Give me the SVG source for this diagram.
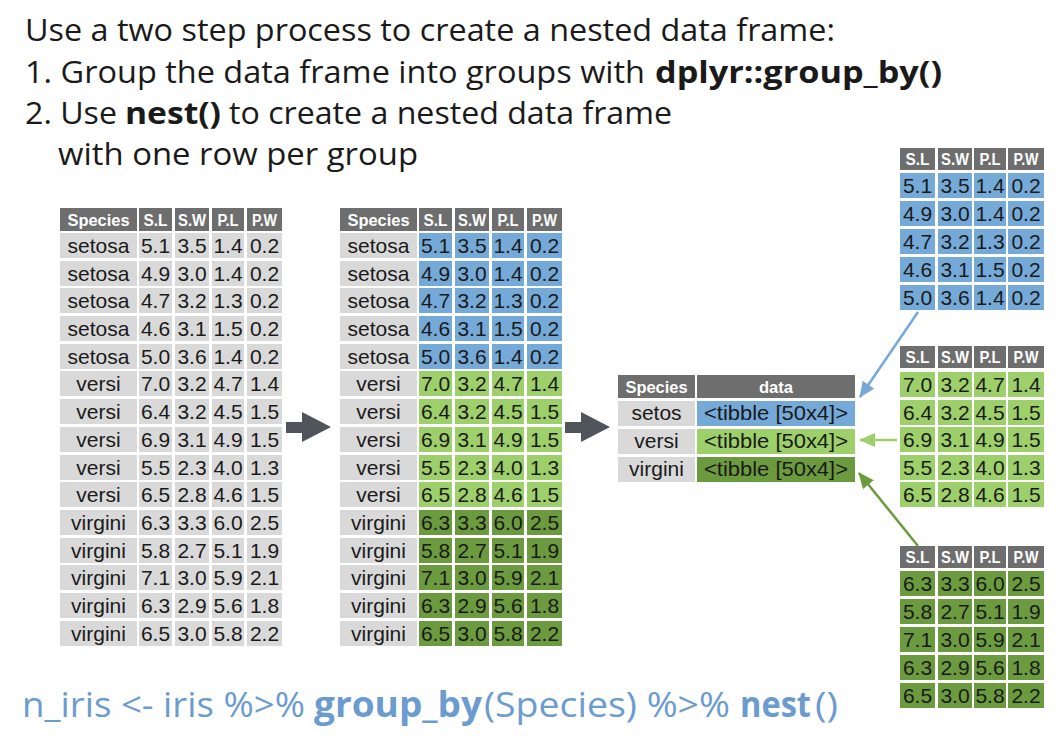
<svg xmlns="http://www.w3.org/2000/svg" width="1060" height="742" viewBox="0 0 1060 742">
<style>
.t{font-family:"Open Sans","Noto Sans",sans-serif;font-size:31px;fill:#1a1a1a}
.b{font-weight:bold}
.code{font-family:"Open Sans","Noto Sans",sans-serif;font-size:35px;fill:#6c9bcf}
.hd{fill:#6e6e6e}
.sp{fill:#d9d9d9}
.bl{fill:#74a9d8}
.lg{fill:#9dcf6a}
.dg{fill:#6b9b3e}
.d{font-family:"Liberation Sans",Arial,sans-serif;font-size:21px;fill:#1a1a1a;text-anchor:middle}
.h{font-family:"Liberation Sans",Arial,sans-serif;font-weight:bold;font-size:16px;fill:#ffffff;text-anchor:middle}
.ga{fill:#50555c}
.cn{fill:none;stroke-width:2.5}
</style>
<defs>
<marker id="mb" markerUnits="userSpaceOnUse" markerWidth="16" markerHeight="14" refX="15" refY="7" orient="auto"><path d="M0,0 L16,7 L0,14 z" fill="#74a9d8"/></marker>
<marker id="mg" markerUnits="userSpaceOnUse" markerWidth="16" markerHeight="14" refX="15" refY="7" orient="auto"><path d="M0,0 L16,7 L0,14 z" fill="#9dcf6a"/></marker>
<marker id="md" markerUnits="userSpaceOnUse" markerWidth="16" markerHeight="14" refX="15" refY="7" orient="auto"><path d="M0,0 L16,7 L0,14 z" fill="#6b9b3e"/></marker>
</defs>
<rect width="1060" height="742" fill="#ffffff"/>
<g id="title">
<text class="t" x="25" y="41" textLength="810" lengthAdjust="spacingAndGlyphs">Use a two step process to create a nested data frame:</text>
<text class="t" x="25" y="83" textLength="620" lengthAdjust="spacingAndGlyphs">1. Group the data frame into groups with</text>
<text class="t b" x="655" y="83" textLength="287" lengthAdjust="spacingAndGlyphs">dplyr::group_by()</text>
<text class="t" x="25" y="124" textLength="92" lengthAdjust="spacingAndGlyphs">2. Use</text>
<text class="t b" x="125" y="124" textLength="96" lengthAdjust="spacingAndGlyphs">nest()</text>
<text class="t" x="229" y="124" textLength="443" lengthAdjust="spacingAndGlyphs">to create a nested data frame</text>
<text class="t" x="58" y="165" textLength="360" lengthAdjust="spacingAndGlyphs">with one row per group</text>
</g>
<g id="table-iris">
<rect class="hd" x="60" y="208" width="77" height="23"/><rect class="hd" x="139" y="208" width="33" height="23"/><rect class="hd" x="175" y="208" width="34" height="23"/><rect class="hd" x="212" y="208" width="32" height="23"/><rect class="hd" x="247" y="208" width="35" height="23"/>
<text class="h" x="98.5" y="226" textLength="62" lengthAdjust="spacingAndGlyphs">Species</text><text class="h" x="155.5" y="226" textLength="24" lengthAdjust="spacingAndGlyphs">S.L</text><text class="h" x="192" y="226" textLength="28" lengthAdjust="spacingAndGlyphs">S.W</text><text class="h" x="228" y="226" textLength="21" lengthAdjust="spacingAndGlyphs">P.L</text><text class="h" x="264.5" y="226" textLength="25" lengthAdjust="spacingAndGlyphs">P.W</text>
<g class="sp">
<rect x="60" y="233" width="77" height="25"/><rect x="139" y="233" width="33" height="25"/><rect x="175" y="233" width="34" height="25"/><rect x="212" y="233" width="32" height="25"/><rect x="247" y="233" width="35" height="25"/>
<rect x="60" y="261" width="77" height="25"/><rect x="139" y="261" width="33" height="25"/><rect x="175" y="261" width="34" height="25"/><rect x="212" y="261" width="32" height="25"/><rect x="247" y="261" width="35" height="25"/>
<rect x="60" y="288" width="77" height="25"/><rect x="139" y="288" width="33" height="25"/><rect x="175" y="288" width="34" height="25"/><rect x="212" y="288" width="32" height="25"/><rect x="247" y="288" width="35" height="25"/>
<rect x="60" y="316" width="77" height="25"/><rect x="139" y="316" width="33" height="25"/><rect x="175" y="316" width="34" height="25"/><rect x="212" y="316" width="32" height="25"/><rect x="247" y="316" width="35" height="25"/>
<rect x="60" y="344" width="77" height="25"/><rect x="139" y="344" width="33" height="25"/><rect x="175" y="344" width="34" height="25"/><rect x="212" y="344" width="32" height="25"/><rect x="247" y="344" width="35" height="25"/>
<rect x="60" y="371" width="77" height="25"/><rect x="139" y="371" width="33" height="25"/><rect x="175" y="371" width="34" height="25"/><rect x="212" y="371" width="32" height="25"/><rect x="247" y="371" width="35" height="25"/>
<rect x="60" y="399" width="77" height="25"/><rect x="139" y="399" width="33" height="25"/><rect x="175" y="399" width="34" height="25"/><rect x="212" y="399" width="32" height="25"/><rect x="247" y="399" width="35" height="25"/>
<rect x="60" y="427" width="77" height="25"/><rect x="139" y="427" width="33" height="25"/><rect x="175" y="427" width="34" height="25"/><rect x="212" y="427" width="32" height="25"/><rect x="247" y="427" width="35" height="25"/>
<rect x="60" y="455" width="77" height="25"/><rect x="139" y="455" width="33" height="25"/><rect x="175" y="455" width="34" height="25"/><rect x="212" y="455" width="32" height="25"/><rect x="247" y="455" width="35" height="25"/>
<rect x="60" y="482" width="77" height="25"/><rect x="139" y="482" width="33" height="25"/><rect x="175" y="482" width="34" height="25"/><rect x="212" y="482" width="32" height="25"/><rect x="247" y="482" width="35" height="25"/>
<rect x="60" y="510" width="77" height="25"/><rect x="139" y="510" width="33" height="25"/><rect x="175" y="510" width="34" height="25"/><rect x="212" y="510" width="32" height="25"/><rect x="247" y="510" width="35" height="25"/>
<rect x="60" y="538" width="77" height="25"/><rect x="139" y="538" width="33" height="25"/><rect x="175" y="538" width="34" height="25"/><rect x="212" y="538" width="32" height="25"/><rect x="247" y="538" width="35" height="25"/>
<rect x="60" y="565" width="77" height="25"/><rect x="139" y="565" width="33" height="25"/><rect x="175" y="565" width="34" height="25"/><rect x="212" y="565" width="32" height="25"/><rect x="247" y="565" width="35" height="25"/>
<rect x="60" y="593" width="77" height="25"/><rect x="139" y="593" width="33" height="25"/><rect x="175" y="593" width="34" height="25"/><rect x="212" y="593" width="32" height="25"/><rect x="247" y="593" width="35" height="25"/>
<rect x="60" y="621" width="77" height="25"/><rect x="139" y="621" width="33" height="25"/><rect x="175" y="621" width="34" height="25"/><rect x="212" y="621" width="32" height="25"/><rect x="247" y="621" width="35" height="25"/>
</g>
<g class="d">
<text x="98.5" y="253">setosa</text><text x="155.5" y="253">5.1</text><text x="192" y="253">3.5</text><text x="228" y="253">1.4</text><text x="264.5" y="253">0.2</text>
<text x="98.5" y="281">setosa</text><text x="155.5" y="281">4.9</text><text x="192" y="281">3.0</text><text x="228" y="281">1.4</text><text x="264.5" y="281">0.2</text>
<text x="98.5" y="308">setosa</text><text x="155.5" y="308">4.7</text><text x="192" y="308">3.2</text><text x="228" y="308">1.3</text><text x="264.5" y="308">0.2</text>
<text x="98.5" y="336">setosa</text><text x="155.5" y="336">4.6</text><text x="192" y="336">3.1</text><text x="228" y="336">1.5</text><text x="264.5" y="336">0.2</text>
<text x="98.5" y="364">setosa</text><text x="155.5" y="364">5.0</text><text x="192" y="364">3.6</text><text x="228" y="364">1.4</text><text x="264.5" y="364">0.2</text>
<text x="98.5" y="391">versi</text><text x="155.5" y="391">7.0</text><text x="192" y="391">3.2</text><text x="228" y="391">4.7</text><text x="264.5" y="391">1.4</text>
<text x="98.5" y="419">versi</text><text x="155.5" y="419">6.4</text><text x="192" y="419">3.2</text><text x="228" y="419">4.5</text><text x="264.5" y="419">1.5</text>
<text x="98.5" y="447">versi</text><text x="155.5" y="447">6.9</text><text x="192" y="447">3.1</text><text x="228" y="447">4.9</text><text x="264.5" y="447">1.5</text>
<text x="98.5" y="475">versi</text><text x="155.5" y="475">5.5</text><text x="192" y="475">2.3</text><text x="228" y="475">4.0</text><text x="264.5" y="475">1.3</text>
<text x="98.5" y="502">versi</text><text x="155.5" y="502">6.5</text><text x="192" y="502">2.8</text><text x="228" y="502">4.6</text><text x="264.5" y="502">1.5</text>
<text x="98.5" y="530">virgini</text><text x="155.5" y="530">6.3</text><text x="192" y="530">3.3</text><text x="228" y="530">6.0</text><text x="264.5" y="530">2.5</text>
<text x="98.5" y="558">virgini</text><text x="155.5" y="558">5.8</text><text x="192" y="558">2.7</text><text x="228" y="558">5.1</text><text x="264.5" y="558">1.9</text>
<text x="98.5" y="585">virgini</text><text x="155.5" y="585">7.1</text><text x="192" y="585">3.0</text><text x="228" y="585">5.9</text><text x="264.5" y="585">2.1</text>
<text x="98.5" y="613">virgini</text><text x="155.5" y="613">6.3</text><text x="192" y="613">2.9</text><text x="228" y="613">5.6</text><text x="264.5" y="613">1.8</text>
<text x="98.5" y="641">virgini</text><text x="155.5" y="641">6.5</text><text x="192" y="641">3.0</text><text x="228" y="641">5.8</text><text x="264.5" y="641">2.2</text>
</g>
</g>
<g id="table-grouped">
<rect class="hd" x="340" y="208" width="77" height="23"/><rect class="hd" x="419" y="208" width="33" height="23"/><rect class="hd" x="455" y="208" width="34" height="23"/><rect class="hd" x="492" y="208" width="32" height="23"/><rect class="hd" x="527" y="208" width="35" height="23"/>
<text class="h" x="378.5" y="226" textLength="62" lengthAdjust="spacingAndGlyphs">Species</text><text class="h" x="435.5" y="226" textLength="24" lengthAdjust="spacingAndGlyphs">S.L</text><text class="h" x="472" y="226" textLength="28" lengthAdjust="spacingAndGlyphs">S.W</text><text class="h" x="508" y="226" textLength="21" lengthAdjust="spacingAndGlyphs">P.L</text><text class="h" x="544.5" y="226" textLength="25" lengthAdjust="spacingAndGlyphs">P.W</text>
<g class="sp">
<rect x="340" y="233" width="77" height="25"/><rect x="340" y="261" width="77" height="25"/><rect x="340" y="288" width="77" height="25"/><rect x="340" y="316" width="77" height="25"/><rect x="340" y="344" width="77" height="25"/>
<rect x="340" y="371" width="77" height="25"/><rect x="340" y="399" width="77" height="25"/><rect x="340" y="427" width="77" height="25"/><rect x="340" y="455" width="77" height="25"/><rect x="340" y="482" width="77" height="25"/>
<rect x="340" y="510" width="77" height="25"/><rect x="340" y="538" width="77" height="25"/><rect x="340" y="565" width="77" height="25"/><rect x="340" y="593" width="77" height="25"/><rect x="340" y="621" width="77" height="25"/>
</g>
<g class="bl">
<rect x="419" y="233" width="33" height="25"/><rect x="455" y="233" width="34" height="25"/><rect x="492" y="233" width="32" height="25"/><rect x="527" y="233" width="35" height="25"/>
<rect x="419" y="261" width="33" height="25"/><rect x="455" y="261" width="34" height="25"/><rect x="492" y="261" width="32" height="25"/><rect x="527" y="261" width="35" height="25"/>
<rect x="419" y="288" width="33" height="25"/><rect x="455" y="288" width="34" height="25"/><rect x="492" y="288" width="32" height="25"/><rect x="527" y="288" width="35" height="25"/>
<rect x="419" y="316" width="33" height="25"/><rect x="455" y="316" width="34" height="25"/><rect x="492" y="316" width="32" height="25"/><rect x="527" y="316" width="35" height="25"/>
<rect x="419" y="344" width="33" height="25"/><rect x="455" y="344" width="34" height="25"/><rect x="492" y="344" width="32" height="25"/><rect x="527" y="344" width="35" height="25"/>
</g>
<g class="lg">
<rect x="419" y="371" width="33" height="25"/><rect x="455" y="371" width="34" height="25"/><rect x="492" y="371" width="32" height="25"/><rect x="527" y="371" width="35" height="25"/>
<rect x="419" y="399" width="33" height="25"/><rect x="455" y="399" width="34" height="25"/><rect x="492" y="399" width="32" height="25"/><rect x="527" y="399" width="35" height="25"/>
<rect x="419" y="427" width="33" height="25"/><rect x="455" y="427" width="34" height="25"/><rect x="492" y="427" width="32" height="25"/><rect x="527" y="427" width="35" height="25"/>
<rect x="419" y="455" width="33" height="25"/><rect x="455" y="455" width="34" height="25"/><rect x="492" y="455" width="32" height="25"/><rect x="527" y="455" width="35" height="25"/>
<rect x="419" y="482" width="33" height="25"/><rect x="455" y="482" width="34" height="25"/><rect x="492" y="482" width="32" height="25"/><rect x="527" y="482" width="35" height="25"/>
</g>
<g class="dg">
<rect x="419" y="510" width="33" height="25"/><rect x="455" y="510" width="34" height="25"/><rect x="492" y="510" width="32" height="25"/><rect x="527" y="510" width="35" height="25"/>
<rect x="419" y="538" width="33" height="25"/><rect x="455" y="538" width="34" height="25"/><rect x="492" y="538" width="32" height="25"/><rect x="527" y="538" width="35" height="25"/>
<rect x="419" y="565" width="33" height="25"/><rect x="455" y="565" width="34" height="25"/><rect x="492" y="565" width="32" height="25"/><rect x="527" y="565" width="35" height="25"/>
<rect x="419" y="593" width="33" height="25"/><rect x="455" y="593" width="34" height="25"/><rect x="492" y="593" width="32" height="25"/><rect x="527" y="593" width="35" height="25"/>
<rect x="419" y="621" width="33" height="25"/><rect x="455" y="621" width="34" height="25"/><rect x="492" y="621" width="32" height="25"/><rect x="527" y="621" width="35" height="25"/>
</g>
<g class="d">
<text x="378.5" y="253">setosa</text><text x="435.5" y="253">5.1</text><text x="472" y="253">3.5</text><text x="508" y="253">1.4</text><text x="544.5" y="253">0.2</text>
<text x="378.5" y="281">setosa</text><text x="435.5" y="281">4.9</text><text x="472" y="281">3.0</text><text x="508" y="281">1.4</text><text x="544.5" y="281">0.2</text>
<text x="378.5" y="308">setosa</text><text x="435.5" y="308">4.7</text><text x="472" y="308">3.2</text><text x="508" y="308">1.3</text><text x="544.5" y="308">0.2</text>
<text x="378.5" y="336">setosa</text><text x="435.5" y="336">4.6</text><text x="472" y="336">3.1</text><text x="508" y="336">1.5</text><text x="544.5" y="336">0.2</text>
<text x="378.5" y="364">setosa</text><text x="435.5" y="364">5.0</text><text x="472" y="364">3.6</text><text x="508" y="364">1.4</text><text x="544.5" y="364">0.2</text>
<text x="378.5" y="391">versi</text><text x="435.5" y="391">7.0</text><text x="472" y="391">3.2</text><text x="508" y="391">4.7</text><text x="544.5" y="391">1.4</text>
<text x="378.5" y="419">versi</text><text x="435.5" y="419">6.4</text><text x="472" y="419">3.2</text><text x="508" y="419">4.5</text><text x="544.5" y="419">1.5</text>
<text x="378.5" y="447">versi</text><text x="435.5" y="447">6.9</text><text x="472" y="447">3.1</text><text x="508" y="447">4.9</text><text x="544.5" y="447">1.5</text>
<text x="378.5" y="475">versi</text><text x="435.5" y="475">5.5</text><text x="472" y="475">2.3</text><text x="508" y="475">4.0</text><text x="544.5" y="475">1.3</text>
<text x="378.5" y="502">versi</text><text x="435.5" y="502">6.5</text><text x="472" y="502">2.8</text><text x="508" y="502">4.6</text><text x="544.5" y="502">1.5</text>
<text x="378.5" y="530">virgini</text><text x="435.5" y="530">6.3</text><text x="472" y="530">3.3</text><text x="508" y="530">6.0</text><text x="544.5" y="530">2.5</text>
<text x="378.5" y="558">virgini</text><text x="435.5" y="558">5.8</text><text x="472" y="558">2.7</text><text x="508" y="558">5.1</text><text x="544.5" y="558">1.9</text>
<text x="378.5" y="585">virgini</text><text x="435.5" y="585">7.1</text><text x="472" y="585">3.0</text><text x="508" y="585">5.9</text><text x="544.5" y="585">2.1</text>
<text x="378.5" y="613">virgini</text><text x="435.5" y="613">6.3</text><text x="472" y="613">2.9</text><text x="508" y="613">5.6</text><text x="544.5" y="613">1.8</text>
<text x="378.5" y="641">virgini</text><text x="435.5" y="641">6.5</text><text x="472" y="641">3.0</text><text x="508" y="641">5.8</text><text x="544.5" y="641">2.2</text>
</g>
</g>
<g id="table-nested">
<rect class="hd" x="618" y="375" width="77" height="23"/><rect class="hd" x="697" y="375" width="158" height="23"/>
<text class="h" x="656.5" y="393" textLength="62" lengthAdjust="spacingAndGlyphs">Species</text><text class="h" x="776" y="393" textLength="34" lengthAdjust="spacingAndGlyphs">data</text>
<rect class="sp" x="618" y="401" width="77" height="25"/><rect class="bl" x="697" y="401" width="158" height="25"/>
<rect class="sp" x="618" y="429" width="77" height="25"/><rect class="lg" x="697" y="429" width="158" height="25"/>
<rect class="sp" x="618" y="457" width="77" height="25"/><rect class="dg" x="697" y="457" width="158" height="25"/>
<g class="d">
<text x="656.5" y="420">setos</text><text x="776" y="420" textLength="144" lengthAdjust="spacingAndGlyphs">&lt;tibble [50x4]&gt;</text>
<text x="656.5" y="448">versi</text><text x="776" y="448" textLength="144" lengthAdjust="spacingAndGlyphs">&lt;tibble [50x4]&gt;</text>
<text x="656.5" y="476">virgini</text><text x="776" y="476" textLength="144" lengthAdjust="spacingAndGlyphs">&lt;tibble [50x4]&gt;</text>
</g>
</g>
<g id="table-setosa">
<rect class="hd" x="900" y="148" width="35" height="22"/><rect class="hd" x="938" y="148" width="34" height="22"/><rect class="hd" x="974" y="148" width="32" height="22"/><rect class="hd" x="1008" y="148" width="36" height="22"/>
<text class="h" x="917.5" y="165" textLength="24" lengthAdjust="spacingAndGlyphs">S.L</text><text class="h" x="955" y="165" textLength="28" lengthAdjust="spacingAndGlyphs">S.W</text><text class="h" x="990" y="165" textLength="21" lengthAdjust="spacingAndGlyphs">P.L</text><text class="h" x="1026" y="165" textLength="25" lengthAdjust="spacingAndGlyphs">P.W</text>
<g class="bl">
<rect x="900" y="173" width="35" height="25"/><rect x="938" y="173" width="34" height="25"/><rect x="974" y="173" width="32" height="25"/><rect x="1008" y="173" width="36" height="25"/>
<rect x="900" y="201" width="35" height="25"/><rect x="938" y="201" width="34" height="25"/><rect x="974" y="201" width="32" height="25"/><rect x="1008" y="201" width="36" height="25"/>
<rect x="900" y="229" width="35" height="25"/><rect x="938" y="229" width="34" height="25"/><rect x="974" y="229" width="32" height="25"/><rect x="1008" y="229" width="36" height="25"/>
<rect x="900" y="257" width="35" height="25"/><rect x="938" y="257" width="34" height="25"/><rect x="974" y="257" width="32" height="25"/><rect x="1008" y="257" width="36" height="25"/>
<rect x="900" y="285" width="35" height="25"/><rect x="938" y="285" width="34" height="25"/><rect x="974" y="285" width="32" height="25"/><rect x="1008" y="285" width="36" height="25"/>
</g>
<g class="d">
<text x="917.5" y="193">5.1</text><text x="955" y="193">3.5</text><text x="990" y="193">1.4</text><text x="1026" y="193">0.2</text>
<text x="917.5" y="221">4.9</text><text x="955" y="221">3.0</text><text x="990" y="221">1.4</text><text x="1026" y="221">0.2</text>
<text x="917.5" y="249">4.7</text><text x="955" y="249">3.2</text><text x="990" y="249">1.3</text><text x="1026" y="249">0.2</text>
<text x="917.5" y="277">4.6</text><text x="955" y="277">3.1</text><text x="990" y="277">1.5</text><text x="1026" y="277">0.2</text>
<text x="917.5" y="305">5.0</text><text x="955" y="305">3.6</text><text x="990" y="305">1.4</text><text x="1026" y="305">0.2</text>
</g>
</g>
<g id="table-versicolor">
<rect class="hd" x="900" y="346" width="35" height="22"/><rect class="hd" x="938" y="346" width="34" height="22"/><rect class="hd" x="974" y="346" width="32" height="22"/><rect class="hd" x="1008" y="346" width="36" height="22"/>
<text class="h" x="917.5" y="363" textLength="24" lengthAdjust="spacingAndGlyphs">S.L</text><text class="h" x="955" y="363" textLength="28" lengthAdjust="spacingAndGlyphs">S.W</text><text class="h" x="990" y="363" textLength="21" lengthAdjust="spacingAndGlyphs">P.L</text><text class="h" x="1026" y="363" textLength="25" lengthAdjust="spacingAndGlyphs">P.W</text>
<g class="lg">
<rect x="900" y="372" width="35" height="25"/><rect x="938" y="372" width="34" height="25"/><rect x="974" y="372" width="32" height="25"/><rect x="1008" y="372" width="36" height="25"/>
<rect x="900" y="400" width="35" height="25"/><rect x="938" y="400" width="34" height="25"/><rect x="974" y="400" width="32" height="25"/><rect x="1008" y="400" width="36" height="25"/>
<rect x="900" y="427" width="35" height="25"/><rect x="938" y="427" width="34" height="25"/><rect x="974" y="427" width="32" height="25"/><rect x="1008" y="427" width="36" height="25"/>
<rect x="900" y="455" width="35" height="25"/><rect x="938" y="455" width="34" height="25"/><rect x="974" y="455" width="32" height="25"/><rect x="1008" y="455" width="36" height="25"/>
<rect x="900" y="482" width="35" height="25"/><rect x="938" y="482" width="34" height="25"/><rect x="974" y="482" width="32" height="25"/><rect x="1008" y="482" width="36" height="25"/>
</g>
<g class="d">
<text x="917.5" y="392">7.0</text><text x="955" y="392">3.2</text><text x="990" y="392">4.7</text><text x="1026" y="392">1.4</text>
<text x="917.5" y="420">6.4</text><text x="955" y="420">3.2</text><text x="990" y="420">4.5</text><text x="1026" y="420">1.5</text>
<text x="917.5" y="447">6.9</text><text x="955" y="447">3.1</text><text x="990" y="447">4.9</text><text x="1026" y="447">1.5</text>
<text x="917.5" y="475">5.5</text><text x="955" y="475">2.3</text><text x="990" y="475">4.0</text><text x="1026" y="475">1.3</text>
<text x="917.5" y="502">6.5</text><text x="955" y="502">2.8</text><text x="990" y="502">4.6</text><text x="1026" y="502">1.5</text>
</g>
</g>
<g id="table-virginica">
<rect class="hd" x="900" y="546" width="35" height="22"/><rect class="hd" x="938" y="546" width="34" height="22"/><rect class="hd" x="974" y="546" width="32" height="22"/><rect class="hd" x="1008" y="546" width="36" height="22"/>
<text class="h" x="917.5" y="563" textLength="24" lengthAdjust="spacingAndGlyphs">S.L</text><text class="h" x="955" y="563" textLength="28" lengthAdjust="spacingAndGlyphs">S.W</text><text class="h" x="990" y="563" textLength="21" lengthAdjust="spacingAndGlyphs">P.L</text><text class="h" x="1026" y="563" textLength="25" lengthAdjust="spacingAndGlyphs">P.W</text>
<g class="dg">
<rect x="900" y="571" width="35" height="25"/><rect x="938" y="571" width="34" height="25"/><rect x="974" y="571" width="32" height="25"/><rect x="1008" y="571" width="36" height="25"/>
<rect x="900" y="599" width="35" height="25"/><rect x="938" y="599" width="34" height="25"/><rect x="974" y="599" width="32" height="25"/><rect x="1008" y="599" width="36" height="25"/>
<rect x="900" y="627" width="35" height="25"/><rect x="938" y="627" width="34" height="25"/><rect x="974" y="627" width="32" height="25"/><rect x="1008" y="627" width="36" height="25"/>
<rect x="900" y="655" width="35" height="25"/><rect x="938" y="655" width="34" height="25"/><rect x="974" y="655" width="32" height="25"/><rect x="1008" y="655" width="36" height="25"/>
<rect x="900" y="683" width="35" height="25"/><rect x="938" y="683" width="34" height="25"/><rect x="974" y="683" width="32" height="25"/><rect x="1008" y="683" width="36" height="25"/>
</g>
<g class="d">
<text x="917.5" y="591">6.3</text><text x="955" y="591">3.3</text><text x="990" y="591">6.0</text><text x="1026" y="591">2.5</text>
<text x="917.5" y="619">5.8</text><text x="955" y="619">2.7</text><text x="990" y="619">5.1</text><text x="1026" y="619">1.9</text>
<text x="917.5" y="647">7.1</text><text x="955" y="647">3.0</text><text x="990" y="647">5.9</text><text x="1026" y="647">2.1</text>
<text x="917.5" y="675">6.3</text><text x="955" y="675">2.9</text><text x="990" y="675">5.6</text><text x="1026" y="675">1.8</text>
<text x="917.5" y="703">6.5</text><text x="955" y="703">3.0</text><text x="990" y="703">5.8</text><text x="1026" y="703">2.2</text>
</g>
</g>
<g id="connectors">
<polygon class="ga" points="286,422 302,422 302,412 331,427 302,442 302,433 286,433"/>
<polygon class="ga" points="565,422 581,422 581,412 610,427 581,442 581,433 565,433"/>
<line class="cn" x1="918" y1="312" x2="860" y2="397" stroke="#74a9d8" marker-end="url(#mb)"/>
<line class="cn" x1="897" y1="440" x2="860" y2="440" stroke="#9dcf6a" marker-end="url(#mg)"/>
<line class="cn" x1="918" y1="546" x2="859" y2="473" stroke="#6b9b3e" marker-end="url(#md)"/>
</g>
<g id="code">
<text class="code" x="22" y="717" textLength="283" lengthAdjust="spacingAndGlyphs">n_iris &lt;- iris %&gt;%</text>
<text class="code b" x="314" y="717" textLength="168" lengthAdjust="spacingAndGlyphs">group_by</text>
<text class="code" x="484" y="717" textLength="246" lengthAdjust="spacingAndGlyphs">(Species) %&gt;%</text>
<text class="code b" x="740" y="717" textLength="71" lengthAdjust="spacingAndGlyphs">nest</text>
<text class="code" x="815" y="717" textLength="23" lengthAdjust="spacingAndGlyphs">()</text>
</g>
</svg>
